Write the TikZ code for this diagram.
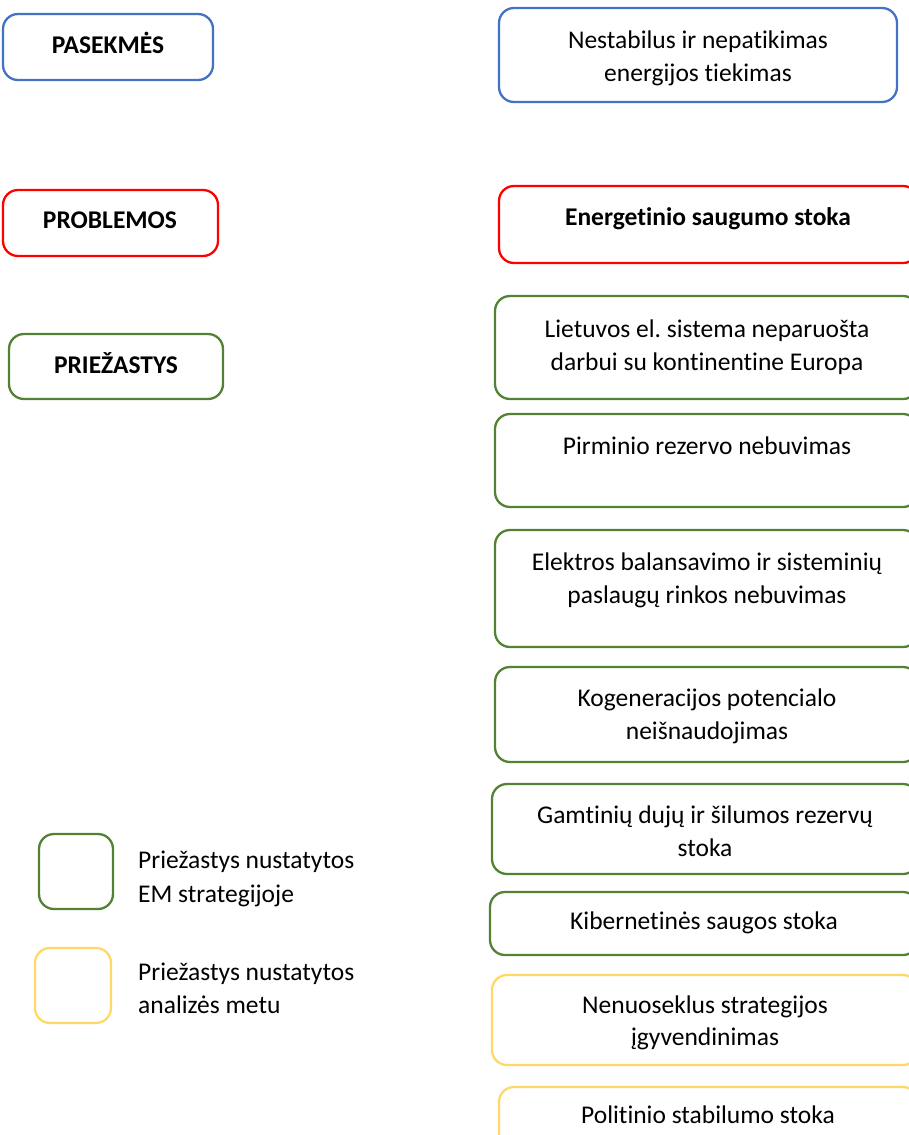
\documentclass[tikz,border=0pt]{standalone}
\usepackage{fontspec}
\setmainfont{Carlito}[Ligatures={NoCommon}]
\frenchspacing
\definecolor{cblue}{HTML}{4472C4}
\definecolor{cred}{HTML}{FF0000}
\definecolor{cgreen}{HTML}{548235}
\definecolor{cyellow}{HTML}{FFD966}
\begin{document}
\begin{tikzpicture}[x=1pt,y=-1pt,
  box/.style={draw, line width=2.3pt, rounded corners=15pt},
  txt/.style={anchor=base, inner sep=0pt, font=\fontsize{25.5}{33}\selectfont},
  btxt/.style={anchor=base, inner sep=0pt, font=\fontsize{25.5}{33}\selectfont\bfseries},
  ltxt/.style={anchor=base west, inner sep=0pt, font=\fontsize{25.5}{33}\selectfont}]
\clip (0,0) rectangle (909,1135);
\fill[white] (0,0) rectangle (909,1135);
% left labels
\draw[box, cblue] (3,14) rectangle (213,80);
\node[btxt] (pas) at (108,53) {PASEKMĖS};
\draw[box, cred] (3,190) rectangle (218,256);
\node[btxt] (prob) at (110,228) {PROBLEMOS};
\draw[box, cgreen] (9,334) rectangle (223,399);
\node[btxt] (prie) at (116,373) {PRIEŽASTYS};
% right column
\draw[box, cblue] (499,8) rectangle (897,102);
\node[txt] (n1a) at (698,48) {Nestabilus ir nepatikimas};
\node[txt] (n1b) at (698,81) {energijos tiekimas};
\draw[box, cred] (499,186) rectangle (918,263);
\node[btxt] (n2) at (708,225) {Energetinio saugumo stoka};
\draw[box, cgreen] (495,296) rectangle (918,399);
\node[txt] (n3a) at (707,337) {Lietuvos el. sistema neparuošta};
\node[txt] (n3b) at (707,370) {darbui su kontinentine Europa};
\draw[box, cgreen] (495,414) rectangle (918,507);
\node[txt] (n4) at (707,454) {Pirminio rezervo nebuvimas};
\draw[box, cgreen] (495,530) rectangle (918,647);
\node[txt] (n5a) at (707,570) {Elektros balansavimo ir sisteminių};
\node[txt] (n5b) at (707,603) {paslaugų rinkos nebuvimas};
\draw[box, cgreen] (495,667) rectangle (918,762);
\node[txt] (n6a) at (707,706) {Kogeneracijos potencialo};
\node[txt] (n6b) at (707,739) {neišnaudojimas};
\draw[box, cgreen] (492,784) rectangle (918,874);
\node[txt] (n7a) at (705,823) {Gamtinių dujų ir šilumos rezervų};
\node[txt] (n7b) at (705,856) {stoka};
\draw[box, cgreen] (490,892) rectangle (918,955);
\node[txt] (n8) at (704,929) {Kibernetinės saugos stoka};
\draw[box, cyellow] (492,975) rectangle (918,1065);
\node[txt] (n9a) at (705,1013) {Nenuoseklus strategijos};
\node[txt] (n9b) at (705,1045) {įgyvendinimas};
\draw[box, cyellow] (499,1087) rectangle (918,1180);
\node[txt] (n10) at (708,1123) {Politinio stabilumo stoka};
% legend
\draw[box, cgreen] (39,834) rectangle (113,909);
\node[ltxt] (l1a) at (138,868) {Priežastys nustatytos};
\node[ltxt] (l1b) at (138,902) {EM strategijoje};
\draw[box, cyellow] (35,948) rectangle (111,1023);
\node[ltxt] (l2a) at (138,980) {Priežastys nustatytos};
\node[ltxt] (l2b) at (138,1013) {analizės metu};
\end{tikzpicture}
\end{document}
